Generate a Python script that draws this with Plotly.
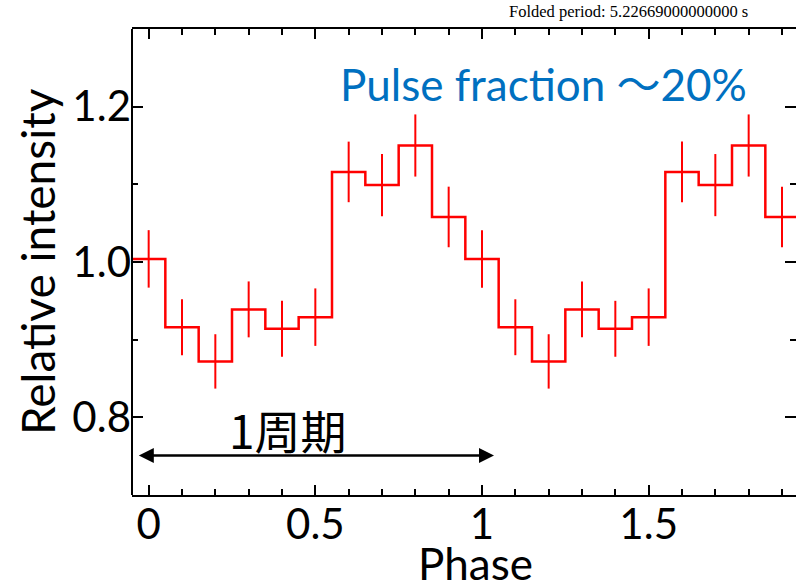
import plotly.graph_objects as go

# Folded light curve (one cycle, 10 bins), shown twice
phase_one = [0.0, 0.1, 0.2, 0.3, 0.4, 0.5, 0.6, 0.7, 0.8, 0.9]
intensity_one = [1.004, 0.916, 0.872, 0.939, 0.914, 0.929, 1.116, 1.099, 1.150, 1.058]
error_one = [0.037, 0.036, 0.035, 0.036, 0.036, 0.037, 0.039, 0.040, 0.040, 0.039]
bin_width = 0.1
n_cycles = 2

phase = [p + c for c in range(n_cycles) for p in phase_one]
intensity = intensity_one * n_cycles
errors = error_one * n_cycles

# step outline from bin edges
step_x = [p - bin_width / 2 for p in phase] + [phase[-1] + bin_width / 2]
step_y = intensity + [intensity[-1]]

x_ticks = [0, 0.5, 1, 1.5]
x_ticklabels = ["0", "0.5", "1", "1.5"]
y_ticks = [0.8, 1.0, 1.2]
y_ticklabels = ["0.8", "1.0", "1.2"]

FONT = "Lato, 'Noto Sans CJK JP', sans-serif"

fig = go.Figure()
fig.add_trace(go.Scatter(x=step_x, y=step_y, mode="lines", line=dict(color="#ff0000", width=2.5, shape="hv"),
                         hoverinfo="skip", showlegend=False))
fig.add_trace(go.Scatter(x=phase, y=intensity, mode="markers", marker=dict(size=0.1, color="#ff0000", opacity=0),
                         error_y=dict(type="data", array=errors, visible=True, color="#ff0000", thickness=2, width=0),
                         showlegend=False))

fig.update_layout(
    width=796, height=582,
    margin=dict(l=132, r=0, t=29, b=87),
    paper_bgcolor="white", plot_bgcolor="white",
    font=dict(family=FONT, color="black"),
    xaxis=dict(range=[-0.05, 1.942], showgrid=False, zeroline=False,
               showline=True, linecolor="black", linewidth=2, mirror="ticks",
               ticks="inside", ticklen=10, tickwidth=1.5, tickcolor="black",
               tickvals=x_ticks, ticktext=x_ticklabels, tickfont=dict(size=42, family=FONT),
               ticklabelstandoff=-8,
               minor=dict(dtick=0.1, tick0=0, ticks="inside", ticklen=6, tickwidth=1.5, tickcolor="black")),
    yaxis=dict(range=[0.7, 1.3], showgrid=False, zeroline=False,
               showline=False, mirror="ticks",
               ticks="inside", ticklen=11, tickwidth=1.5, tickcolor="black",
               tickvals=y_ticks, ticktext=y_ticklabels, tickfont=dict(size=42, family=FONT),
               minor=dict(dtick=0.1, tick0=0.7, ticks="inside", ticklen=6, tickwidth=1.5, tickcolor="black")),
)

fig.add_shape(type="line", xref="paper", yref="paper", x0=0, x1=0, y0=0, y1=1,
              line=dict(color="black", width=2))

# axis titles as positioned annotations
fig.add_annotation(xref="paper", yref="paper", x=0, y=0.5, xshift=-95, xanchor="center", yanchor="middle",
                   text="Relative intensity", textangle=-90, showarrow=False,
                   font=dict(family=FONT, size=46, color="black"))
fig.add_annotation(xref="x", yref="paper", x=0.98, y=0, yshift=-68, xanchor="center", yanchor="middle",
                   text="Phase", showarrow=False,
                   font=dict(family=FONT, size=44, color="black"))

fig.add_annotation(xref="paper", yref="paper", x=0.93, y=1.0, yshift=29, xanchor="right", yanchor="top",
                   text="Folded period: 5.22669000000000 s", showarrow=False,
                   font=dict(family="Liberation Serif, serif", size=16.5, color="black"))

fig.add_annotation(xref="x", yref="y", x=1.8, y=1.229, xanchor="right", yanchor="middle",
                   text="Pulse fraction ～20%", showarrow=False,
                   font=dict(family=FONT, size=44, color="#0070c0"))

fig.add_annotation(xref="x", yref="y", x=0.417, y=0.785, xanchor="center", yanchor="middle",
                   text="1周期", showarrow=False,
                   font=dict(family="'Noto Sans CJK JP', sans-serif", size=46, color="black"))

fig.add_annotation(xref="x", yref="y", axref="x", ayref="y",
                   x=1.036, y=0.751, ax=-0.034, ay=0.751, text="",
                   showarrow=True, arrowhead=2, startarrowhead=2, arrowside="end+start",
                   arrowsize=1.2, arrowwidth=2.5, arrowcolor="black")

fig.write_html("out.html")
